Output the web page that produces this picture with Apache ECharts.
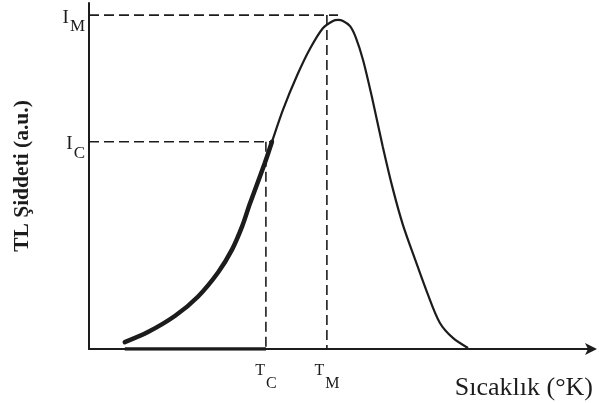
<!DOCTYPE html>
<html>
<head>
<meta charset="utf-8">
<script src="https://cdn.jsdelivr.net/npm/echarts@6/dist/echarts.min.js"></script>
<style>
  html, body { margin: 0; padding: 0; background: #fff; }
  #chart { width: 599px; height: 403px; }
</style>
</head>
<body>
<div id="chart"></div>
<script>
// Glow curve: temperature (arbitrary units) vs TL intensity (a.u.)
const temps = [7.1, 11.7, 17.1, 21.6, 25.6, 28.4, 30.4, 31.9, 34.9, 36.3, 38.5, 41.3, 43.9, 46.4, 48.4, 49.4, 50.4, 51.8, 53.0, 54.4, 56.2, 58.3, 60.3, 62.3, 64.7, 67.1, 69.6, 72.2, 75.2];
const intensity = [2.0, 4.9, 9.6, 15.1, 22.1, 28.8, 35.5, 41.9, 53.8, 59.9, 69.2, 79.1, 86.9, 92.7, 94.8, 95.1, 94.8, 93.3, 89.8, 83.4, 72.4, 58.4, 46.2, 35.8, 25.9, 16.3, 7.6, 3.2, 0.3];

// Marked levels on the axes
const Tc = 35.1;   // T_C
const Ic = 59.9;   // I_C
const Tm = 47.2;   // T_M
const Im = 96.5;   // I_M

const xTickValues = [Tc, Tm];
const xTickNames = ['C', 'M'];
const yTickValues = [Ic, Im];
const yTickNames = ['C', 'M'];

const xTitle = 'Sıcaklık (°K)';
const yTitle = 'TL Şiddeti (a.u.)';

const serif = "'Liberation Serif', 'Times New Roman', serif";
const ink = '#1c1c1c';

const curve = temps.map((t, i) => [t, intensity[i]]);
const icPoint = curve[intensity.indexOf(Ic)];            // where the curve reaches I_C
const peakPoint = curve[intensity.indexOf(Math.max(...intensity))];
const rising = curve.filter(p => p[0] <= icPoint[0]);

const dash = { color: ink, width: 1.6, type: [10, 5] };

// Letter with a lowered subscript: the subscript token gets a taller,
// bottom-aligned line box so that it sits below the main letter.
function subscriptRich(mainSize, subSize, boxHeight) {
  return {
    m: { fontFamily: serif, fontSize: mainSize, lineHeight: mainSize, color: ink, verticalAlign: 'top' },
    s: { fontFamily: serif, fontSize: subSize, lineHeight: boxHeight, color: ink, verticalAlign: 'bottom', padding: [0, 0, 0, 1] }
  };
}

const chart = echarts.init(document.getElementById('chart'), null, { renderer: 'canvas' });
chart.setOption({
  animation: false,
  backgroundColor: '#fff',
  grid: { left: 89, right: 6, top: 3, bottom: 54, containLabel: false, outerBoundsMode: 'none' },
  xAxis: {
    type: 'value', min: 0, max: 100,
    splitLine: { show: false },
    axisTick: { show: false },
    axisLine: { lineStyle: { color: ink, width: 2 }, symbol: ['none', 'arrow'], symbolSize: [9, 12], symbolOffset: [0, 4] },
    axisLabel: {
      customValues: xTickValues,
      margin: 14,
      formatter: v => '{m|T}{s|' + xTickNames[xTickValues.indexOf(v)] + '}',
      rich: subscriptRich(16, 16, 29)
    },
    name: xTitle,
    nameLocation: 'end',
    nameGap: 0,
    nameTextStyle: { fontFamily: serif, fontSize: 26, color: ink, align: 'right', verticalAlign: 'top', padding: [26, 0, 0, 0] }
  },
  yAxis: {
    type: 'value', min: 0, max: 100,
    splitLine: { show: false },
    axisTick: { show: false },
    axisLine: { lineStyle: { color: ink, width: 2 } },
    axisLabel: {
      customValues: yTickValues,
      margin: 4,
      padding: [13, 0, 0, 0],
      formatter: v => '{m|I}{s|' + yTickNames[yTickValues.indexOf(v)] + '}',
      rich: subscriptRich(19, 17, 27)
    },
    name: yTitle,
    nameLocation: 'middle',
    nameRotate: 90,
    nameGap: 56,
    nameTextStyle: { fontFamily: serif, fontSize: 21.5, fontWeight: 'bold', color: ink }
  },
  series: [
    {
      type: 'line', data: curve, smooth: 0.3, symbol: 'none',
      lineStyle: { color: ink, width: 2.2 }, z: 3
    },
    {
      type: 'line', data: rising, smooth: 0.3, symbol: 'none',
      lineStyle: { color: ink, width: 4.5, cap: 'round' }, z: 4
    },
    {
      type: 'line', data: [[temps[0], 0], [Tc, 0]], symbol: 'none',
      lineStyle: { color: ink, width: 3.5 }, z: 4
    },
    { type: 'line', data: [[0, Im], [peakPoint[0], Im]], symbol: 'none', lineStyle: dash },
    { type: 'line', data: [[Tm, Im], [Tm, 0]], symbol: 'none', lineStyle: dash },
    { type: 'line', data: [[0, Ic], icPoint], symbol: 'none', lineStyle: dash },
    { type: 'line', data: [[Tc, Ic], [Tc, 0]], symbol: 'none', lineStyle: dash }
  ]
});
</script>
</body>
</html>
